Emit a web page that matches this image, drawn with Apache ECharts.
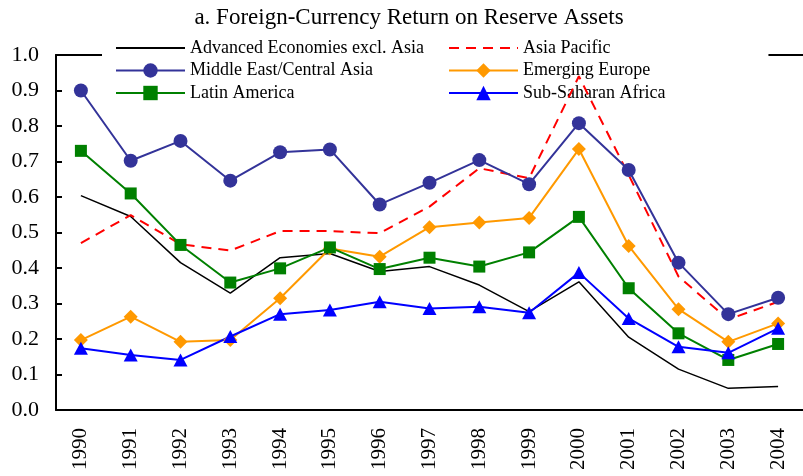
<!DOCTYPE html>
<html>
<head>
<meta charset="utf-8">
<script src="https://cdn.jsdelivr.net/npm/echarts@6/dist/echarts.min.js"></script>
<style>
  html, body { margin: 0; padding: 0; background: #fff; }
  #chart { width: 803px; height: 476px; }
</style>
</head>
<body>
<div id="chart"></div>
<script>
  // values
  var years = ['1990', '1991', '1992', '1993', '1994', '1995', '1996', '1997',
               '1998', '1999', '2000', '2001', '2002', '2003', '2004'];
  var advanced    = [0.604, 0.545, 0.415, 0.329, 0.429, 0.441, 0.390, 0.404, 0.352, 0.277, 0.361, 0.205, 0.115, 0.061, 0.066];
  var asiaPacific = [0.470, 0.549, 0.467, 0.449, 0.504, 0.504, 0.498, 0.573, 0.681, 0.653, 0.940, 0.662, 0.376, 0.255, 0.305];
  var middleEast  = [0.900, 0.702, 0.758, 0.646, 0.726, 0.734, 0.579, 0.640, 0.704, 0.636, 0.808, 0.676, 0.415, 0.270, 0.316];
  var emergingEur = [0.197, 0.263, 0.192, 0.197, 0.315, 0.455, 0.432, 0.515, 0.528, 0.541, 0.735, 0.462, 0.284, 0.192, 0.244];
  var latinAm     = [0.730, 0.610, 0.465, 0.359, 0.399, 0.458, 0.397, 0.429, 0.404, 0.444, 0.544, 0.343, 0.216, 0.141, 0.186];
  var subSahara   = [0.174, 0.155, 0.141, 0.207, 0.270, 0.282, 0.305, 0.286, 0.291, 0.274, 0.387, 0.258, 0.178, 0.161, 0.230];

  var serif = "'Liberation Serif', 'Times New Roman', serif";

  var chart = echarts.init(document.getElementById('chart'));

  function legendStyle() {
    return { fontFamily: serif, fontSize: 18, color: '#000', lineHeight: 18 };
  }

  // lines without markers get no marker in the legend either
  var noMarker = { opacity: 0 };

  chart.setOption({
    animation: false,
    backgroundColor: '#fff',
    title: {
      text: 'a. Foreign-Currency Return on Reserve Assets',
      left: 404,
      textAlign: 'center',
      top: 1,
      textStyle: { fontFamily: serif, fontSize: 23, fontWeight: 'normal', color: '#000' }
    },
    legend: [
      {
        orient: 'vertical',
        left: 102,
        top: 34,
        padding: [5, 20, 5, 13],
        itemWidth: 69,
        itemHeight: 18,
        itemGap: 4.5,
        backgroundColor: '#fff',
        z: 4,
        textStyle: legendStyle(),
        data: [
          { name: 'Advanced Economies excl. Asia', itemStyle: noMarker },
          'Middle East/Central Asia',
          'Latin America'
        ]
      },
      {
        orient: 'vertical',
        left: 438,
        top: 34,
        padding: [5, 103, 5, 10],
        itemWidth: 69,
        itemHeight: 18,
        itemGap: 4.5,
        backgroundColor: '#fff',
        z: 4,
        textStyle: legendStyle(),
        data: [
          { name: 'Asia Pacific', itemStyle: noMarker },
          'Emerging Europe',
          'Sub-Saharan Africa'
        ]
      }
    ],
    grid: { left: 56, right: -3, top: 55, bottom: 66 },
    xAxis: [
      {
        type: 'category',
        data: years,
        boundaryGap: true,
        axisLine: { lineStyle: { color: '#000', width: 2 } },
        axisTick: { inside: true, length: 8, interval: 0, lineStyle: { color: '#000', width: 2 } },
        axisLabel: { rotate: 90, margin: 18, interval: 0, fontFamily: serif, fontSize: 21, color: '#000' },
        splitLine: { show: false }
      },
      {
        type: 'category',
        data: years,
        position: 'top',
        axisLine: { lineStyle: { color: '#000', width: 2 } },
        axisTick: { show: false },
        axisLabel: { show: false },
        splitLine: { show: false }
      }
    ],
    yAxis: {
      type: 'value',
      min: 0,
      max: 1,
      interval: 0.1,
      axisLine: { show: true, lineStyle: { color: '#000', width: 2 } },
      axisTick: { show: true, inside: true, length: 6, lineStyle: { color: '#000', width: 2 } },
      axisLabel: {
        margin: 17, fontFamily: serif, fontSize: 22, color: '#000',
        formatter: function (v) { return v.toFixed(1); }
      },
      splitLine: { show: false }
    },
    series: [
      {
        name: 'Advanced Economies excl. Asia',
        type: 'line', z: 5, data: advanced,
        symbol: 'none',
        color: '#000',
        lineStyle: { color: '#000', width: 1.5 }
      },
      {
        name: 'Asia Pacific',
        type: 'line', z: 5, data: asiaPacific,
        symbol: 'none',
        color: '#ff0000',
        lineStyle: { color: '#ff0000', width: 2, type: [10, 7] }
      },
      {
        name: 'Middle East/Central Asia',
        type: 'line', z: 5, data: middleEast,
        symbol: 'circle', symbolSize: 14,
        color: '#333399',
        itemStyle: { color: '#333399' },
        lineStyle: { color: '#333399', width: 2 }
      },
      {
        name: 'Emerging Europe',
        type: 'line', z: 5, data: emergingEur,
        symbol: 'diamond', symbolSize: 14,
        color: '#ff9900',
        itemStyle: { color: '#ff9900' },
        lineStyle: { color: '#ff9900', width: 2 }
      },
      {
        name: 'Latin America',
        type: 'line', z: 5, data: latinAm,
        symbol: 'rect', symbolSize: 12,
        color: '#008000',
        itemStyle: { color: '#008000' },
        lineStyle: { color: '#008000', width: 2 }
      },
      {
        name: 'Sub-Saharan Africa',
        type: 'line', z: 5, data: subSahara,
        symbol: 'triangle', symbolSize: [14, 13],
        color: '#0000ff',
        itemStyle: { color: '#0000ff' },
        lineStyle: { color: '#0000ff', width: 2 }
      }
    ]
  });
</script>
</body>
</html>
